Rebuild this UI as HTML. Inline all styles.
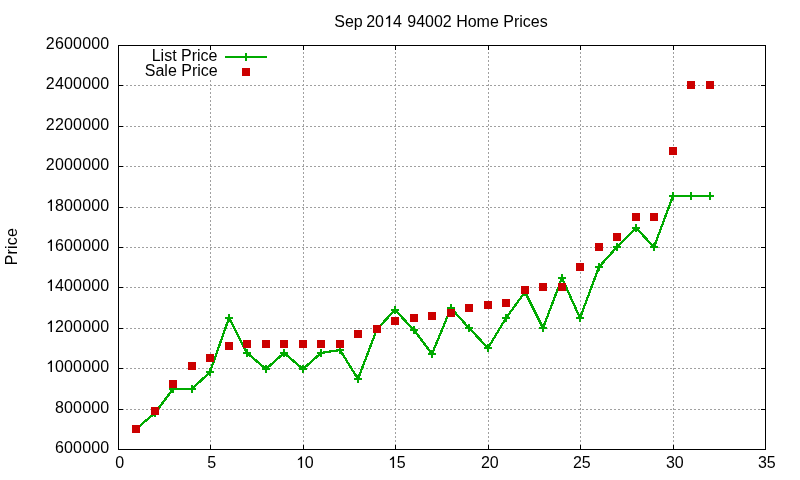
<!DOCTYPE html><html><head><meta charset="utf-8"><style>html,body{margin:0;padding:0;background:#fff;width:800px;height:480px;overflow:hidden}svg{display:block;will-change:transform}text .o{fill-opacity:0}text{font-family:"Liberation Sans",sans-serif;font-size:16px;fill:#000}</style></head><body>
<svg width="800" height="480" viewBox="0 0 800 480">
<rect width="800" height="480" fill="#fff"/>
<path d="M210.5 450V80M303.5 450V45.5M395.5 450V45.5M488.5 450V45.5M580.5 450V45.5M673.5 450V45.5M118 409.5H765M118 368.5H765M118 328.5H765M118 287.5H765M118 247.5H765M118 207.5H765M118 166.5H765M118 126.5H765M118 85.5H765" stroke="#a0a0a0" stroke-width="1" stroke-dasharray="2 2" fill="none" shape-rendering="crispEdges"/>
<path d="M118.5 45.5H765.5V449.5H118.5ZM118.5 449v-4M118.5 45v5M210.5 449v-4M210.5 45v5M303.5 449v-4M303.5 45v5M395.5 449v-4M395.5 45v5M488.5 449v-4M488.5 45v5M580.5 449v-4M580.5 45v5M673.5 449v-4M673.5 45v5M765.5 449v-4M765.5 45v5M118 449.5h5M765 449.5h-4M118 409.5h5M765 409.5h-4M118 368.5h5M765 368.5h-4M118 328.5h5M765 328.5h-4M118 287.5h5M765 287.5h-4M118 247.5h5M765 247.5h-4M118 207.5h5M765 207.5h-4M118 166.5h5M765 166.5h-4M118 126.5h5M765 126.5h-4M118 85.5h5M765 85.5h-4M118 45.5h5M765 45.5h-4" stroke="#000" stroke-width="1" fill="none" shape-rendering="crispEdges"/>
<text x="109.4" y="453" text-anchor="end" letter-spacing="0.18">600000</text>
<text x="109.4" y="413" text-anchor="end" letter-spacing="0.18">800000</text>
<text x="109.4" y="372" text-anchor="end" letter-spacing="0.18"><tspan class="o">1</tspan>000000</text>
<text x="109.4" y="332" text-anchor="end" letter-spacing="0.18"><tspan class="o">1</tspan>200000</text>
<text x="109.4" y="291" text-anchor="end" letter-spacing="0.18"><tspan class="o">1</tspan>400000</text>
<text x="109.4" y="251" text-anchor="end" letter-spacing="0.18"><tspan class="o">1</tspan>600000</text>
<text x="109.4" y="211" text-anchor="end" letter-spacing="0.18"><tspan class="o">1</tspan>800000</text>
<text x="109.4" y="170" text-anchor="end" letter-spacing="0.18">2000000</text>
<text x="109.4" y="130" text-anchor="end" letter-spacing="0.18">2200000</text>
<text x="109.4" y="89" text-anchor="end" letter-spacing="0.18">2400000</text>
<text x="109.4" y="49" text-anchor="end" letter-spacing="0.18">2600000</text>
<text x="119.8" y="468" text-anchor="middle">0</text>
<text x="211.8" y="468" text-anchor="middle">5</text>
<text x="304.8" y="468" text-anchor="middle"><tspan class="o">1</tspan>0</text>
<text x="396.8" y="468" text-anchor="middle"><tspan class="o">1</tspan>5</text>
<text x="489.8" y="468" text-anchor="middle">20</text>
<text x="581.8" y="468" text-anchor="middle">25</text>
<text x="674.8" y="468" text-anchor="middle">30</text>
<text x="766.8" y="468" text-anchor="middle">35</text>
<text x="441" y="27" text-anchor="middle">Sep <tspan dx="-1">20<tspan class="o">1</tspan>4</tspan><tspan dx="1"> 94002 Home Prices</tspan></text>
<text transform="translate(17,246.6) rotate(-90)" x="0" y="0" text-anchor="middle" letter-spacing="0.2">Price</text>
<text x="217.5" y="61" text-anchor="end">List Price</text>
<text x="217.7" y="76" text-anchor="end">Sale Price</text>
<path d="M225 57H267M246 53v8" stroke="#00aa00" stroke-width="2" fill="none"/>
<rect x="242" y="68" width="8" height="8" fill="#cc0000"/>
<polyline points="136,429 155,413 173,389 192,389 210,372 229,318 247,353 266,369 284,353 303,369 321,353 340,350 358,379 377,329 395,310 414,330 432,354 451,308 469,328 488,348 506,318 525,292 543,328 562,278 580,318 599,267 617,247 636,228 654,247 673,196 691,196 710,196" stroke="#00aa00" stroke-width="2.3" fill="none" stroke-linejoin="miter" shape-rendering="crispEdges"/>
<path d="M132.00 429.00h8M136.00 425.00v8M151.00 413.00h8M155.00 409.00v8M169.00 389.00h8M173.00 385.00v8M188.00 389.00h8M192.00 385.00v8M206.00 372.00h8M210.00 368.00v8M225.00 318.00h8M229.00 314.00v8M243.00 353.00h8M247.00 349.00v8M262.00 369.00h8M266.00 365.00v8M280.00 353.00h8M284.00 349.00v8M299.00 369.00h8M303.00 365.00v8M317.00 353.00h8M321.00 349.00v8M336.00 350.00h8M340.00 346.00v8M354.00 379.00h8M358.00 375.00v8M373.00 329.00h8M377.00 325.00v8M391.00 310.00h8M395.00 306.00v8M410.00 330.00h8M414.00 326.00v8M428.00 354.00h8M432.00 350.00v8M447.00 308.00h8M451.00 304.00v8M465.00 328.00h8M469.00 324.00v8M484.00 348.00h8M488.00 344.00v8M502.00 318.00h8M506.00 314.00v8M521.00 292.00h8M525.00 288.00v8M539.00 328.00h8M543.00 324.00v8M558.00 278.00h8M562.00 274.00v8M576.00 318.00h8M580.00 314.00v8M595.00 267.00h8M599.00 263.00v8M613.00 247.00h8M617.00 243.00v8M632.00 228.00h8M636.00 224.00v8M650.00 247.00h8M654.00 243.00v8M669.00 196.00h8M673.00 192.00v8M687.00 196.00h8M691.00 192.00v8M706.00 196.00h8M710.00 192.00v8" stroke="#00aa00" stroke-width="2" fill="none"/>
<rect x="132.00" y="425.00" width="8" height="8" fill="#cc0000"/>
<rect x="151.00" y="407.00" width="8" height="8" fill="#cc0000"/>
<rect x="169.00" y="380.00" width="8" height="8" fill="#cc0000"/>
<rect x="188.00" y="362.00" width="8" height="8" fill="#cc0000"/>
<rect x="206.00" y="354.00" width="8" height="8" fill="#cc0000"/>
<rect x="225.00" y="342.00" width="8" height="8" fill="#cc0000"/>
<rect x="243.00" y="340.00" width="8" height="8" fill="#cc0000"/>
<rect x="262.00" y="340.00" width="8" height="8" fill="#cc0000"/>
<rect x="280.00" y="340.00" width="8" height="8" fill="#cc0000"/>
<rect x="299.00" y="340.00" width="8" height="8" fill="#cc0000"/>
<rect x="317.00" y="340.00" width="8" height="8" fill="#cc0000"/>
<rect x="336.00" y="340.00" width="8" height="8" fill="#cc0000"/>
<rect x="354.00" y="330.00" width="8" height="8" fill="#cc0000"/>
<rect x="373.00" y="325.00" width="8" height="8" fill="#cc0000"/>
<rect x="391.00" y="317.00" width="8" height="8" fill="#cc0000"/>
<rect x="410.00" y="314.00" width="8" height="8" fill="#cc0000"/>
<rect x="428.00" y="312.00" width="8" height="8" fill="#cc0000"/>
<rect x="447.00" y="309.00" width="8" height="8" fill="#cc0000"/>
<rect x="465.00" y="304.00" width="8" height="8" fill="#cc0000"/>
<rect x="484.00" y="301.00" width="8" height="8" fill="#cc0000"/>
<rect x="502.00" y="299.00" width="8" height="8" fill="#cc0000"/>
<rect x="521.00" y="286.00" width="8" height="8" fill="#cc0000"/>
<rect x="539.00" y="283.00" width="8" height="8" fill="#cc0000"/>
<rect x="558.00" y="283.00" width="8" height="8" fill="#cc0000"/>
<rect x="576.00" y="263.00" width="8" height="8" fill="#cc0000"/>
<rect x="595.00" y="243.00" width="8" height="8" fill="#cc0000"/>
<rect x="613.00" y="233.00" width="8" height="8" fill="#cc0000"/>
<rect x="632.00" y="213.00" width="8" height="8" fill="#cc0000"/>
<rect x="650.00" y="213.00" width="8" height="8" fill="#cc0000"/>
<rect x="669.00" y="147.00" width="8" height="8" fill="#cc0000"/>
<rect x="687.00" y="81.00" width="8" height="8" fill="#cc0000"/>
<rect x="706.00" y="81.00" width="8" height="8" fill="#cc0000"/>
<g fill="#000"><path transform="translate(45.822,372) scale(0.0078125,-0.0078125)" d="M790 0L600 0L600 1150Q430 1040 256 1000L256 1130Q500 1240 640 1466L790 1466Z"/><path transform="translate(45.822,332) scale(0.0078125,-0.0078125)" d="M790 0L600 0L600 1150Q430 1040 256 1000L256 1130Q500 1240 640 1466L790 1466Z"/><path transform="translate(45.822,291) scale(0.0078125,-0.0078125)" d="M790 0L600 0L600 1150Q430 1040 256 1000L256 1130Q500 1240 640 1466L790 1466Z"/><path transform="translate(45.822,251) scale(0.0078125,-0.0078125)" d="M790 0L600 0L600 1150Q430 1040 256 1000L256 1130Q500 1240 640 1466L790 1466Z"/><path transform="translate(45.822,211) scale(0.0078125,-0.0078125)" d="M790 0L600 0L600 1150Q430 1040 256 1000L256 1130Q500 1240 640 1466L790 1466Z"/><path transform="translate(295.894,468) scale(0.0078125,-0.0078125)" d="M790 0L600 0L600 1150Q430 1040 256 1000L256 1130Q500 1240 640 1466L790 1466Z"/><path transform="translate(387.894,468) scale(0.0078125,-0.0078125)" d="M790 0L600 0L600 1150Q430 1040 256 1000L256 1130Q500 1240 640 1466L790 1466Z"/><path transform="translate(383.969,27) scale(0.0078125,-0.0078125)" d="M790 0L600 0L600 1150Q430 1040 256 1000L256 1130Q500 1240 640 1466L790 1466Z"/></g>
</svg></body></html>
